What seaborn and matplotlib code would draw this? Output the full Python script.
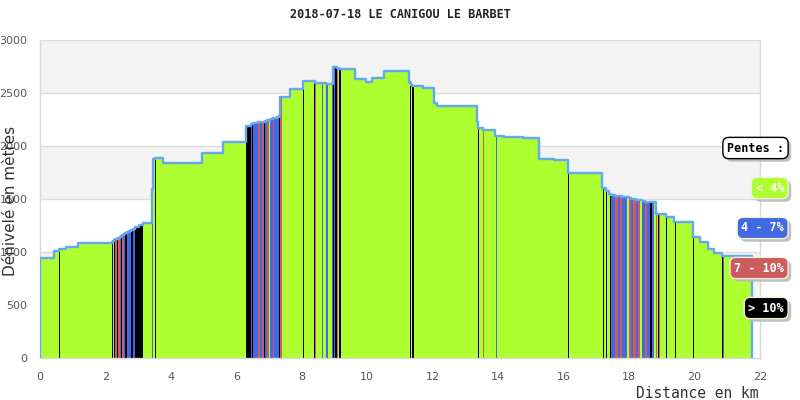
import matplotlib
matplotlib.use("Agg")
import matplotlib.pyplot as plt
import matplotlib.patheffects as pe
import seaborn as sns
import pandas as pd
import numpy as np

# ---- data -------------------------------------------------------------
title = "2018-07-18 LE CANIGOU LE BARBET"
slope_classes = ["< 4%", "4 - 7%", "7 - 10%", "> 10%"]
slope_colors = ["#adff2f", "#4169e1", "#cd5c5c", "#000000"]

G, B, R, K = slope_classes

seg_km = [0.00, 0.43, 0.58, 0.61, 0.80, 1.16,
          2.20, 2.24, 2.27, 2.30, 2.35, 2.38, 2.43, 2.48, 2.51, 2.56, 2.61, 2.67, 2.73, 2.79, 2.85, 2.90, 3.02,
          3.15, 3.41, 3.46, 3.52, 3.55, 3.76, 4.95, 5.60,
          6.30, 6.44, 6.48, 6.52, 6.67, 6.71, 6.79, 6.83, 6.87, 6.95, 6.99, 7.03, 7.12, 7.16, 7.24, 7.30, 7.33,
          7.40, 7.65, 8.03, 8.07, 8.36, 8.39, 8.41, 8.44, 8.61, 8.64, 8.75, 8.79, 8.92, 8.94, 8.97, 9.01, 9.07,
          9.11, 9.15, 9.20, 9.61, 9.97, 10.14, 10.50, 11.28, 11.31, 11.35, 11.38, 11.42, 11.69, 12.03, 12.13,
          13.35, 13.38, 13.42, 13.54, 13.57, 13.89, 13.92, 13.95, 14.17, 14.76, 15.24, 15.70, 16.14, 16.17,
          17.18, 17.21, 17.24, 17.29, 17.33, 17.38, 17.43, 17.45, 17.58, 17.65, 17.71, 17.77, 17.95, 18.01,
          18.07, 18.13, 18.20, 18.26, 18.32, 18.38, 18.50, 18.56, 18.65, 18.69, 18.75, 18.81, 18.84, 18.88,
          18.91, 18.93, 19.14, 19.17, 19.37, 19.39, 19.42, 19.95, 19.98, 20.16, 20.41, 20.59, 20.83, 20.86,
          20.90]
seg_end_km = 21.76

seg_elev = [943, 1010, 1028, 1028, 1047, 1085,
            1094, 1100, 1110, 1118, 1126, 1134, 1142, 1150, 1158, 1166, 1176, 1186, 1198, 1208, 1220, 1236, 1255,
            1274, 1590, 1880, 1887, 1885, 1840, 1934, 2038,
            2190, 2207, 2207, 2220, 2226, 2226, 2230, 2230, 2236, 2245, 2245, 2255, 2264, 2264, 2273, 2280, 2462,
            2462, 2538, 2613, 2613, 2613, 2597, 2597, 2597, 2590, 2590, 2585, 2582, 2582, 2745, 2745, 2745, 2740,
            2740, 2730, 2726, 2632, 2604, 2641, 2707, 2600, 2594, 2580, 2566, 2566, 2547, 2406, 2377,
            2226, 2170, 2170, 2151, 2151, 2094, 2094, 2094, 2085, 2075, 1877, 1868, 1745, 1745,
            1604, 1604, 1604, 1575, 1575, 1547, 1547, 1540, 1528, 1528, 1525, 1522, 1515, 1510,
            1500, 1500, 1495, 1490, 1488, 1480, 1475, 1472, 1472, 1470, 1470, 1358, 1358, 1358,
            1358, 1358, 1330, 1330, 1283, 1283, 1283, 1141, 1141, 1094, 1028, 990, 962, 962,
            962]

seg_slope = [G, G, K, G, G, G,
             K, G, K, R, K, R, B, K, R, B, K, B, B, K, B, K, K,
             G, B, G, K, G, G, G, G,
             K, B, K, B, R, B, R, K, B, R, G, B, R, B, B, K, R,
             G, G, K, G, K, G, R, G, B, G, B, G, B, K, B, K, R,
             G, K, G, G, G, G, G, G, K, G, K, G, G, G, G,
             G, K, G, R, G, G, B, G, G, G, G, G, K, G,
             G, K, G, K, G, G, K, B, R, B, R, B, G, R,
             B, R, B, R, G, B, R, B, K, B, G, R, G, K,
             R, G, K, G, G, K, G, K, G, G, G, G, K, B,
             G]

x_ticks = list(range(0, 23, 2))
y_ticks = list(range(0, 3001, 500))

# ---- figure -----------------------------------------------------------
sns.set_theme(style="white")
plt.rcParams["font.family"] = ["DejaVu Sans"]

fig = plt.figure(figsize=(8, 4), dpi=100)
ax = fig.add_axes([40 / 800, 1 - 358 / 400, 720 / 800, 318 / 400])

# background bands and grid
for lo in (500, 1500, 2500):
    ax.axhspan(lo, lo + 500, color="#f3f3f3", zorder=0, lw=0)
for yv in y_ticks[1:]:
    ax.axhline(yv, color="#dcdcdc", lw=1, zorder=0.5)

edges = seg_km + [seg_end_km]
mids = [(a + b) / 2 for a, b in zip(edges[:-1], edges[1:])]
df = pd.DataFrame({"km": mids, "elev": seg_elev, "pente": seg_slope})

sns.histplot(data=df, x="km", weights="elev", bins=edges, hue="pente",
             hue_order=slope_classes, palette=dict(zip(slope_classes, slope_colors)),
             multiple="layer", element="bars", fill=True, alpha=1, linewidth=0,
             shrink=1, legend=False, ax=ax, zorder=2)

# profile outline
ox = [0.0] + seg_km + [seg_end_km, seg_end_km]
oy = [0] + seg_elev + [seg_elev[-1], 0]
sns.lineplot(x=ox, y=oy, estimator=None, sort=False, drawstyle="steps-post",
             color="#62a8f2", lw=1.7, ax=ax, zorder=3)

ax.set_xlim(0, 22)
ax.set_ylim(0, 3000)
ax.set_xticks(x_ticks)
ax.set_yticks(y_ticks)
ax.set_xlabel("")
ax.set_ylabel("")
ax.tick_params(axis="both", length=0, labelsize=8, labelcolor="#555555")
ax.tick_params(axis="y", pad=9)
ax.tick_params(axis="x", pad=10)
for s in ("left", "right", "bottom"):
    ax.spines[s].set_color("#d8d8d8")
    ax.spines[s].set_linewidth(1)
ax.spines["top"].set_visible(False)
ax.set_facecolor("white")

# texts
fig.text(0.5, 1 - 14 / 400, title, ha="center", va="center",
         family="DejaVu Sans Mono", weight="bold", fontsize=8.5, color="#222222")
fig.text(11 / 800, 1 - 201 / 400, "Dénivelé en mètres", rotation=90,
         ha="center", va="center", fontsize=11, color="#333333")
fig.text(758 / 800, 1 - 393 / 400, "Distance en km", ha="right", va="center",
         family="DejaVu Sans Mono", fontsize=10.5, color="#333333")

# legend boxes (with drop shadow on the box)
def tag(y_px, txt, fc, tc, ec):
    t = fig.text(784 / 800, 1 - y_px / 400, txt, ha="right", va="center",
                 family="DejaVu Sans Mono", weight="bold", fontsize=8.5, color=tc,
                 bbox=dict(boxstyle="round,pad=0.35,rounding_size=0.5", fc=fc, ec=ec, lw=1))
    t.get_bbox_patch().set_path_effects([
        pe.SimplePatchShadow(offset=(2.2, -2.2), shadow_rgbFace="#b8b8b8", alpha=0.9),
        pe.Normal()])

tag(148, "Pentes :", "white", "black", "black")
for ypx, lab, col in zip([188, 228, 268, 308], slope_classes, slope_colors):
    tag(ypx, lab, col, "white", "#f4eed8")

fig.savefig("out.png", dpi=100)
